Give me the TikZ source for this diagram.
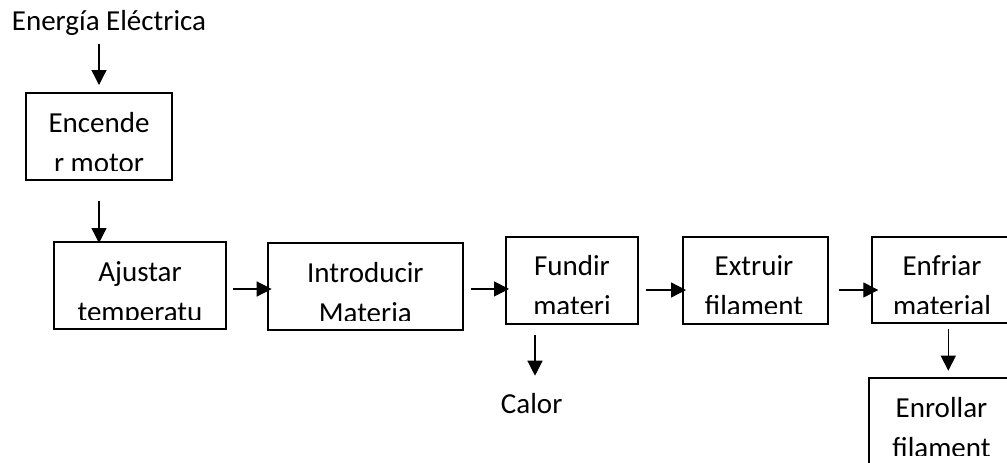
\documentclass[tikz,border=0pt]{standalone}
\usepackage{fontspec}
\setmainfont{Carlito}
\usetikzlibrary{arrows.meta}

\tikzset{
  flow/.style={draw, line width=0.9pt, inner sep=0pt, outer sep=0pt},
  lbl/.style={inner sep=0pt, outer sep=0pt, anchor=base,
              font=\fontsize{14.5}{17}\selectfont},
  arr/.style={line width=0.65pt, -{Triangle[length=7.5pt,width=7.5pt]}},
}

% Two text lines inside a box; the second one is cut off by the box's text area.
% #1 box name, #2 centre x, #3 box top, #4 first line, #5 second line
\newcommand\flowlines[5]{%
  \node[lbl] (#1-l1) at (#2,#3+39) {#4};
  \begin{scope}
    \clip (#1.north west) rectangle (#1.east |- 0,#3+77);
    \node[lbl] (#1-l2) at (#2,#3+79) {#5};
  \end{scope}
}

\begin{document}
\begin{tikzpicture}[x=0.5pt,y=-0.5pt]
  \useasboundingbox (0,0) rectangle (1007,462);
  \clip (0,0) rectangle (1007,462);

  % process boxes
  \node[flow, minimum width=73pt,    minimum height=43.5pt]  (encender)   at (99,136.5)     {};
  \node[flow, minimum width=86pt,    minimum height=43.5pt]  (ajustar)    at (140,285.5)    {};
  \node[flow, minimum width=97.35pt, minimum height=43.35pt] (introducir) at (365.35,286.65) {};
  \node[flow, minimum width=66.3pt,  minimum height=43.5pt]  (fundir)     at (572,280.2)    {};
  \node[flow, minimum width=72.5pt,  minimum height=43.5pt]  (extruir)    at (755.2,280.2)  {};
  \node[flow, minimum width=70.15pt, minimum height=43.3pt]  (enfriar)    at (941.85,280)   {};
  \node[flow, minimum width=72.5pt,  minimum height=45.85pt] (enrollar)   at (941.5,424.15) {};

  \flowlines{encender}{99}{93}{Encende}{r motor}
  \flowlines{ajustar}{140}{242}{Ajustar}{temperatu}
  \flowlines{introducir}{365.35}{243.3}{Introducir}{Materia}
  \flowlines{fundir}{572}{236.7}{Fundir}{materi}
  \flowlines{extruir}{754}{236.7}{Extruir}{filament}
  \flowlines{enfriar}{942}{236.7}{Enfriar}{material}
  \flowlines{enrollar}{941.5}{378.3}{Enrollar}{filament}

  % free labels
  \node[lbl] (energia) at (109,30) {Energía Eléctrica};
  \node[lbl] (calor) at (531.7,413.3) {Calor};

  % connectors
  \coordinate (e0) at (encender.north |- energia.base);
  \draw[arr] ([yshift=-7pt]e0) -- ([yshift=4pt]encender.north);

  \draw[arr, shorten >=-0.5pt] ([yshift=-10.5pt]encender.south) -- (encender.south |- ajustar.north);

  \coordinate (a1) at ([shift={(7,3.5)}]ajustar.east);
  \draw[arr, shorten >=-1.85pt] (a1) -- (a1 -| introducir.west);

  \coordinate (a2) at ([shift={(8,2.3)}]introducir.east);
  \draw[arr, shorten >=-1.65pt] (a2) -- (a2 -| fundir.west);

  \coordinate (a3) at ([shift={(7.7,9.8)}]fundir.east);
  \draw[arr, shorten >=-1.65pt] (a3) -- (a3 -| extruir.west);

  \coordinate (a4) at ([shift={(11.3,9.8)}]extruir.east);
  \draw[arr, shorten >=-3.3pt] (a4) -- (a4 -| enfriar.west);

  \coordinate (a5) at ([shift={(29.3,11.3)}]fundir.south west);
  \draw[arr, shorten >=18.8pt] (a5) -- (a5 |- calor.base);

  \coordinate (a6) at ([shift={(6.45,5.7)}]enfriar.south);
  \draw[arr, shorten >=3.8pt] (a6) -- (a6 |- enrollar.north);
\end{tikzpicture}
\end{document}
